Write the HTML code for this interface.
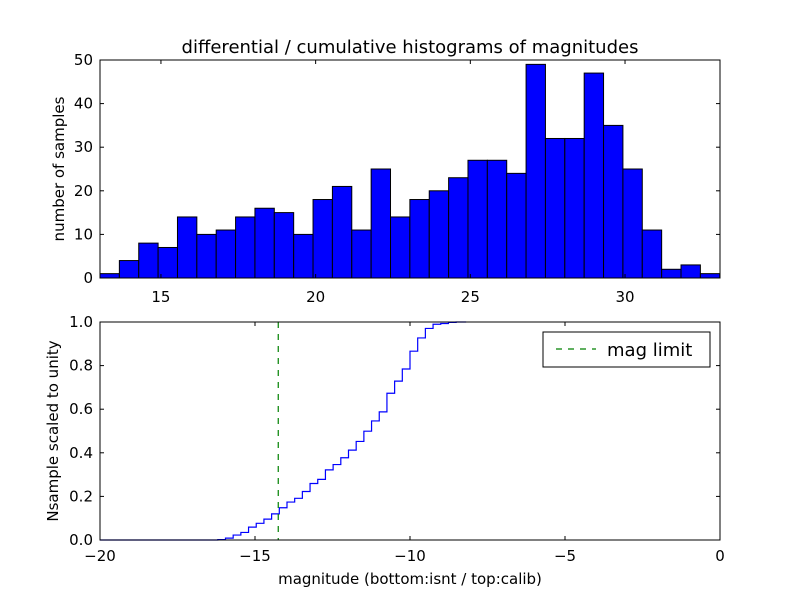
<!DOCTYPE html>
<html><head><meta charset="utf-8"><style>
body{margin:0;background:#fff;}
svg{display:block;font-family:"DejaVu Sans","Liberation Sans",sans-serif;}
</style></head><body>
<svg id="chart" width="800" height="600" viewBox="0 0 800 600"></svg>
<script>
const counts=[1,4,8,7,14,10,11,14,16,15,10,18,21,11,25,14,18,20,23,27,27,24,49,32,32,47,35,25,11,2,3,1];
const topStart=13.03, topBinWidth=0.626;
const topXTicks=[15,20,25,30];
const topYTicks=[0,10,20,30,40,50];
const botStart=-16.2, botBinWidth=0.248;
const botXTicks=[-20,-15,-10,-5,0];
const botYTicks=[0.0,0.2,0.4,0.6,0.8,1.0];
const magLimit=-14.25;

const svg=document.getElementById('chart');
const NS='http://www.w3.org/2000/svg';
function mk(t,a,p){const e=document.createElementNS(NS,t);for(const k in a)e.setAttribute(k,a[k]);(p||svg).appendChild(e);return e;}

const T={l:100,r:720,t:60,b:278,x0:13.03,x1:33.07,y0:0,y1:50};
const tx=v=>T.l+(v-T.x0)/(T.x1-T.x0)*(T.r-T.l);
const ty=v=>T.b-(v-T.y0)/(T.y1-T.y0)*(T.b-T.t);
const gTop=mk('g',{});


counts.forEach((c,i)=>{
  const x0=tx(topStart+i*topBinWidth),x1=tx(topStart+(i+1)*topBinWidth);
  const r=mk('rect',{x:x0,y:ty(c),width:x1-x0,height:ty(0)-ty(c),fill:'#0000ff',stroke:'#000','stroke-width':1},gTop);
  
  
});
mk('rect',{x:T.l,y:T.t,width:T.r-T.l,height:T.b-T.t,fill:'none',stroke:'#000','stroke-width':1});
topXTicks.forEach(v=>{
  const x=tx(v);
  mk('line',{x1:x,x2:x,y1:T.b,y2:T.b-4,stroke:'#000'});
  mk('line',{x1:x,x2:x,y1:T.t,y2:T.t+4,stroke:'#000'});
  const t=mk('text',{x:x,y:T.b+24,'text-anchor':'middle','font-size':15});t.textContent=v;
  
  
});
topYTicks.forEach(v=>{
  const y=ty(v);
  mk('line',{x1:T.l,x2:T.l+4,y1:y,y2:y,stroke:'#000'});
  mk('line',{x1:T.r,x2:T.r-4,y1:y,y2:y,stroke:'#000'});
  const t=mk('text',{x:T.l-7,y:y+5,'text-anchor':'end','font-size':15});t.textContent=v;
  
  
});
let e=mk('text',{x:410,y:53,'text-anchor':'middle','font-size':18});e.textContent='differential / cumulative histograms of magnitudes';

e=mk('text',{x:64,y:169,'text-anchor':'middle','font-size':15,transform:'rotate(-90 64 169)'});e.textContent='number of samples';


const B={l:100,r:720,t:322,b:540,x0:-20,x1:0,y0:0,y1:1};
const bx=v=>B.l+(v-B.x0)/(B.x1-B.x0)*(B.r-B.l);
const by=v=>B.b-(v-B.y0)/(B.y1-B.y0)*(B.b-B.t);
const total=counts.reduce((a,b)=>a+b,0);
let cum=0, d='M'+bx(-20)+','+by(0);
counts.forEach((c,i)=>{
  cum+=c;
  const x=bx(botStart+i*botBinWidth);
  d+=' H'+x+' V'+by(cum/total);
});
d+=' H'+bx(botStart+(counts.length+0.3)*botBinWidth);
e=mk('path',{d:d,fill:'none',stroke:'#0000ff','stroke-width':1.2});

e=mk('line',{x1:bx(magLimit),x2:bx(magLimit),y1:B.t,y2:B.b,stroke:'#008000','stroke-width':1.2,'stroke-dasharray':'6,6'});

mk('rect',{x:B.l,y:B.t,width:B.r-B.l,height:B.b-B.t,fill:'none',stroke:'#000','stroke-width':1});
botXTicks.forEach(v=>{
  const x=bx(v);
  mk('line',{x1:x,x2:x,y1:B.b,y2:B.b-4,stroke:'#000'});
  mk('line',{x1:x,x2:x,y1:B.t,y2:B.t+4,stroke:'#000'});
  const t=mk('text',{x:x,y:B.b+21,'text-anchor':'middle','font-size':15});t.textContent=v===0?'0':'\u2212'+Math.abs(v);
  
  
});
botYTicks.forEach(v=>{
  const y=by(v);
  mk('line',{x1:B.l,x2:B.l+4,y1:y,y2:y,stroke:'#000'});
  mk('line',{x1:B.r,x2:B.r-4,y1:y,y2:y,stroke:'#000'});
  const t=mk('text',{x:B.l-7,y:y+5,'text-anchor':'end','font-size':15});t.textContent=v.toFixed(1);
  
  
});
e=mk('text',{x:410,y:584,'text-anchor':'middle','font-size':15});e.textContent='magnitude (bottom:isnt / top:calib)';

e=mk('text',{x:58,y:431,'text-anchor':'middle','font-size':15,transform:'rotate(-90 58 431)'});e.textContent='Nsample scaled to unity';


const lg=mk('g',{});

mk('rect',{x:543,y:332,width:167,height:35,fill:'#fff',stroke:'#000'},lg);
mk('line',{x1:556,x2:596,y1:349,y2:349,stroke:'#008000','stroke-width':1.2,'stroke-dasharray':'6,6'},lg);
e=mk('text',{x:607,y:356,'font-size':18},lg);e.textContent='mag limit';

</script>
</body></html>
